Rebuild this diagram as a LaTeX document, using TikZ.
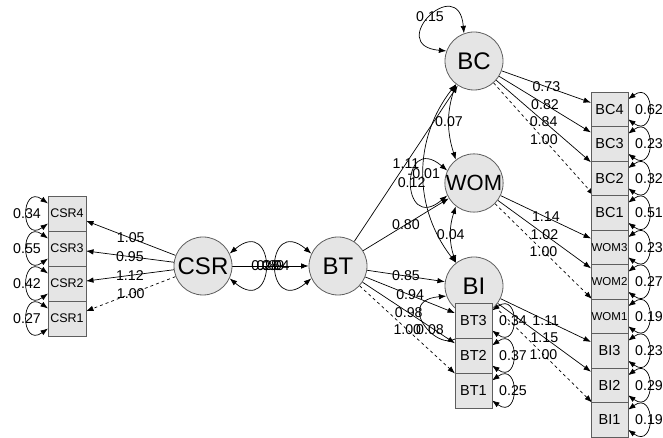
\documentclass[tikz,border=0pt]{standalone}
\usepackage{fontspec}
\setmainfont{Liberation Sans}
\usetikzlibrary{arrows.meta,positioning,backgrounds}
\definecolor{semfill}{HTML}{E5E5E5}
\definecolor{semline}{HTML}{5E5E5E}

\begin{document}
\begin{tikzpicture}[
    x=1pt, y=1pt,
    every node/.style={font=\fontsize{14.2}{15}\selectfont},
    latent/.style={circle, draw=semline, fill=semfill, line width=0.8pt, minimum size=58pt, inner sep=0pt, font=\fontsize{24}{24}\selectfont},
    manifest/.style={rectangle, draw=semline, fill=semfill, line width=0.8pt, minimum width=37pt, minimum height=34.5pt, inner sep=0pt, outer sep=0pt, font=\fontsize{14.5}{15}\selectfont},
    csrbox/.style={manifest, minimum width=38pt, minimum height=35pt, font=\fontsize{12.5}{13}\selectfont},
    wombox/.style={manifest, font=\fontsize{11.5}{12}\selectfont},
    load/.style={-{Latex[length=7.5pt,width=5.5pt]}, line width=0.7pt},
    fixed/.style={load, dashed},
    cov/.style={{Latex[length=7.5pt,width=5.5pt]}-{Latex[length=7.5pt,width=5.5pt]}, line width=0.7pt},
    est/.style={pos=0.5, inner sep=0pt}
]
\useasboundingbox (0,0) rectangle (663,438);

% latent variables
\node[latent] (CSR) at (203,172) {CSR};
\node[latent] (BT) at (338,172) {BT};
\node[latent] (BC) at (474,377) {BC};
\node[latent, font=\fontsize{22}{22}\selectfont] (WOM) at (474,255) {WOM};
\node[latent] (BI) at (474,152) {BI};

% indicators
\node[csrbox] (CSR4) at (67,224.5) {CSR4};
\node[csrbox, below=0pt of CSR4] (CSR3) {CSR3};
\node[csrbox, below=0pt of CSR3] (CSR2) {CSR2};
\node[csrbox, below=0pt of CSR2] (CSR1) {CSR1};

\node[manifest, minimum height=35pt] (BT3) at (473.5,117.5) {BT3};
\node[manifest, minimum height=35pt, below=0pt of BT3] (BT2) {BT2};
\node[manifest, minimum height=35pt, below=0pt of BT2] (BT1) {BT1};

\node[manifest] (BC4) at (609.5,328.75) {BC4};
\node[manifest, below=0pt of BC4] (BC3) {BC3};
\node[manifest, below=0pt of BC3] (BC2) {BC2};
\node[manifest, below=0pt of BC2] (BC1) {BC1};
\node[wombox, below=0pt of BC1] (WOM3) {WOM3};
\node[wombox, below=0pt of WOM3] (WOM2) {WOM2};
\node[wombox, below=0pt of WOM2] (WOM1) {WOM1};
\node[manifest, below=0pt of WOM1] (BI3) {BI3};
\node[manifest, below=0pt of BI3] (BI2) {BI2};
\node[manifest, below=0pt of BI2] (BI1) {BI1};

\begin{scope}[on background layer]
% loadings and paths
\draw[load] (CSR) -- node[est] {1.05} (CSR4);
\draw[load] (CSR) -- node[est] {0.95} (CSR3);
\draw[load] (CSR) -- node[est] {1.12} (CSR2);
\draw[fixed] (CSR) -- node[est] {1.00} (CSR1);
\draw[load] (CSR) -- node[est] {0.89} (BT);
\draw[load] (BT) -- node[est] {1.11} (BC);
\draw[load] (BT) -- node[est] {0.80} (WOM);
\draw[load] (BT) -- node[est] {0.85} (BI);
\draw[load] (BT) -- node[est] {0.94} (BT3);
\draw[load] (BT) -- node[est] {0.98} (BT2);
\draw[fixed] (BT) -- node[est] {1.00} (BT1);
\draw[load] (BC) -- node[est] {0.73} (BC4);
\draw[load] (BC) -- node[est] {0.82} (BC3);
\draw[load] (BC) -- node[est] {0.84} (BC2);
\draw[fixed] (BC) -- node[est] {1.00} (BC1);
\draw[load] (WOM) -- node[est] {1.14} (WOM3);
\draw[load] (WOM) -- node[est] {1.02} (WOM2);
\draw[fixed] (WOM) -- node[est] {1.00} (WOM1);
\draw[load] (BI) -- node[est] {1.11} (BI3);
\draw[load] (BI) -- node[est] {1.15} (BI2);
\draw[fixed] (BI) -- node[est] {1.00} (BI1);

% covariances
\draw[cov] (BC.232) to[bend right=18] node[est] {0.07} (WOM.128);
\draw[cov] (WOM.232) to[bend right=18] node[est] {0.04} (BI.128);
\draw[cov] (BC) to[bend right=38] node[est] {-0.01} (BI);

% variances of latents
\draw[cov] (CSR.25) .. controls +(40:62) and +(-40:62) .. (CSR.-25) node[est] {0.28};
\draw[cov] (BT.155) .. controls +(140:62) and +(220:62) .. (BT.205) node[est] {0.04};
\draw[cov] (BC.160) .. controls +(175:62) and +(95:62) .. (BC.110) node[est] {0.15};
\draw[cov] (WOM.155) .. controls +(140:62) and +(220:62) .. (WOM.205) node[est] {0.12};
\draw[cov] (BI.250) .. controls +(265:62) and +(185:62) .. (BI.200) node[est] {0.08};

% variances of indicators
\draw[cov] ([yshift=10pt]CSR4.west) .. controls +(-28,20) and +(-28,-20) .. ([yshift=-10pt]CSR4.west) node[est] {0.34};
\draw[cov] ([yshift=10pt]CSR3.west) .. controls +(-28,20) and +(-28,-20) .. ([yshift=-10pt]CSR3.west) node[est] {0.55};
\draw[cov] ([yshift=10pt]CSR2.west) .. controls +(-28,20) and +(-28,-20) .. ([yshift=-10pt]CSR2.west) node[est] {0.42};
\draw[cov] ([yshift=10pt]CSR1.west) .. controls +(-28,20) and +(-28,-20) .. ([yshift=-10pt]CSR1.west) node[est] {0.27};
\draw[cov] ([yshift=10pt]BT3.east) .. controls +(28,20) and +(28,-20) .. ([yshift=-10pt]BT3.east) node[est] {0.34};
\draw[cov] ([yshift=10pt]BT2.east) .. controls +(28,20) and +(28,-20) .. ([yshift=-10pt]BT2.east) node[est] {0.37};
\draw[cov] ([yshift=10pt]BT1.east) .. controls +(28,20) and +(28,-20) .. ([yshift=-10pt]BT1.east) node[est] {0.25};
\draw[cov] ([yshift=10pt]BC4.east) .. controls +(28,20) and +(28,-20) .. ([yshift=-10pt]BC4.east) node[est] {0.62};
\draw[cov] ([yshift=10pt]BC3.east) .. controls +(28,20) and +(28,-20) .. ([yshift=-10pt]BC3.east) node[est] {0.23};
\draw[cov] ([yshift=10pt]BC2.east) .. controls +(28,20) and +(28,-20) .. ([yshift=-10pt]BC2.east) node[est] {0.32};
\draw[cov] ([yshift=10pt]BC1.east) .. controls +(28,20) and +(28,-20) .. ([yshift=-10pt]BC1.east) node[est] {0.51};
\draw[cov] ([yshift=10pt]WOM3.east) .. controls +(28,20) and +(28,-20) .. ([yshift=-10pt]WOM3.east) node[est] {0.23};
\draw[cov] ([yshift=10pt]WOM2.east) .. controls +(28,20) and +(28,-20) .. ([yshift=-10pt]WOM2.east) node[est] {0.27};
\draw[cov] ([yshift=10pt]WOM1.east) .. controls +(28,20) and +(28,-20) .. ([yshift=-10pt]WOM1.east) node[est] {0.19};
\draw[cov] ([yshift=10pt]BI3.east) .. controls +(28,20) and +(28,-20) .. ([yshift=-10pt]BI3.east) node[est] {0.23};
\draw[cov] ([yshift=10pt]BI2.east) .. controls +(28,20) and +(28,-20) .. ([yshift=-10pt]BI2.east) node[est] {0.29};
\draw[cov] ([yshift=10pt]BI1.east) .. controls +(28,20) and +(28,-20) .. ([yshift=-10pt]BI1.east) node[est] {0.19};
\end{scope}
\end{tikzpicture}
\end{document}
